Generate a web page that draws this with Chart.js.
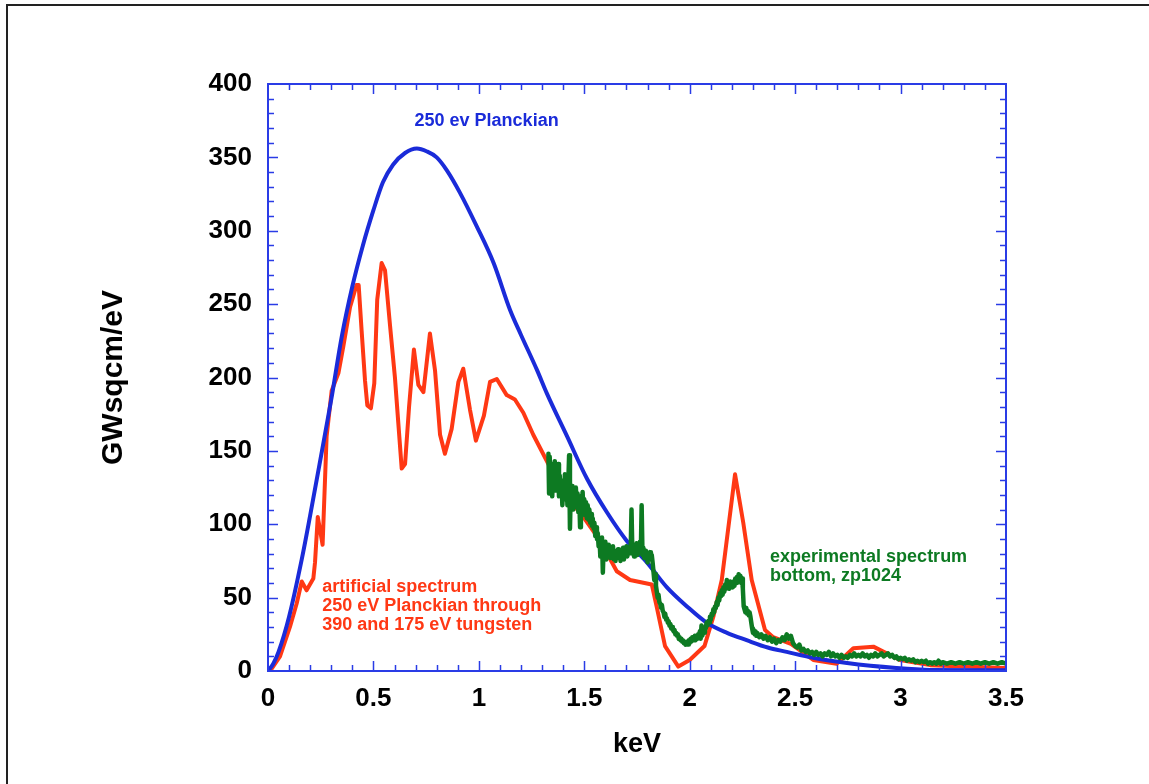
<!DOCTYPE html>
<html>
<head>
<meta charset="utf-8">
<title>250 eV Planckian spectrum</title>
<script src="https://cdn.jsdelivr.net/npm/chart.js@4.4.1/dist/chart.umd.min.js"></script>
<style>
  html, body { margin: 0; padding: 0; background: #fff; }
  #wrap { position: relative; width: 1149px; height: 784px; }
</style>
</head>
<body>
<div id="wrap"><canvas id="spectrum" width="1149" height="784"></canvas></div>
<script>
// eixos
const xTicks = [0, 0.5, 1, 1.5, 2, 2.5, 3, 3.5];
const xTickLabels = ['0', '0.5', '1', '1.5', '2', '2.5', '3', '3.5'];
const yTicks = [0, 50, 100, 150, 200, 250, 300, 350, 400];

// 250 ev Planckian (keV, GWsqcm/eV)
const planckian = [
  [0, 0], [0.025, 5], [0.05, 13], [0.1, 37], [0.16, 76], [0.2, 106], [0.256, 150],
  [0.3, 185], [0.35, 228], [0.4, 262], [0.45, 290], [0.5, 314], [0.545, 333],
  [0.593, 345], [0.65, 353], [0.706, 356], [0.754, 354], [0.8, 350], [0.849, 341],
  [0.91, 326], [0.99, 303], [1.07, 278], [1.148, 246], [1.2, 229], [1.276, 205],
  [1.323, 189], [1.418, 160], [1.513, 131], [1.608, 108], [1.7, 89], [1.797, 74],
  [1.892, 57], [1.987, 44], [2.08, 33], [2.177, 26], [2.27, 21], [2.37, 16],
  [2.46, 13], [2.585, 9], [2.746, 5.4], [2.98, 2], [3.14, 0.7], [3.5, 0.5]
];

// artificial spectrum
const artificial = [
  [0, 0], [0.01, 0], [0.057, 10], [0.104, 30], [0.136, 46], [0.16, 61], [0.183, 55],
  [0.215, 63], [0.223, 74], [0.236, 105], [0.259, 86], [0.278, 160], [0.302, 191],
  [0.334, 203], [0.357, 221], [0.389, 248], [0.42, 263], [0.43, 263], [0.444, 232],
  [0.46, 198], [0.471, 181], [0.488, 179], [0.504, 196], [0.518, 253], [0.539, 278],
  [0.555, 273], [0.579, 235], [0.602, 200], [0.618, 169], [0.634, 138], [0.65, 141],
  [0.669, 180], [0.692, 219], [0.713, 195], [0.737, 190], [0.768, 230], [0.792, 205],
  [0.816, 161], [0.839, 148], [0.871, 165], [0.903, 197], [0.926, 206], [0.958, 178],
  [0.986, 157], [1.024, 174], [1.053, 197], [1.085, 199], [1.132, 188], [1.171, 185],
  [1.211, 176], [1.258, 161], [1.337, 139], [1.417, 119], [1.495, 105], [1.574, 89],
  [1.654, 68], [1.717, 62], [1.82, 59], [1.843, 44], [1.883, 17], [1.946, 3],
  [2.0, 7.5], [2.07, 17], [2.112, 37], [2.152, 62], [2.215, 134], [2.254, 101],
  [2.294, 62], [2.357, 28], [2.396, 23], [2.48, 18.5], [2.586, 7.5], [2.697, 5],
  [2.776, 15.5], [2.871, 16.6], [2.934, 12], [2.997, 7.5], [3.14, 4], [3.5, 2]
];

// experimental spectrum, bottom, zp1024
const experimental = [
  [1.330, 148], [1.333, 121], [1.336, 146], [1.340, 126], [1.344, 141], [1.348, 119],
  [1.352, 137], [1.356, 128], [1.360, 143], [1.364, 123], [1.368, 138], [1.372, 127],
  [1.376, 141], [1.380, 119], [1.384, 133], [1.388, 124], [1.392, 130], [1.396, 113],
  [1.400, 128], [1.404, 121], [1.408, 134], [1.412, 117], [1.416, 130], [1.420, 113],
  [1.424, 127], [1.428, 147], [1.432, 97], [1.436, 124], [1.440, 115], [1.444, 126],
  [1.448, 110], [1.452, 123], [1.456, 112], [1.460, 125], [1.464, 114], [1.468, 121],
  [1.472, 108], [1.476, 119], [1.480, 98], [1.484, 118], [1.488, 110], [1.492, 122],
  [1.496, 109], [1.500, 117], [1.504, 106], [1.508, 115], [1.512, 104], [1.516, 113],
  [1.520, 103], [1.524, 110], [1.528, 101], [1.532, 107], [1.536, 99], [1.540, 104],
  [1.544, 97], [1.548, 101], [1.552, 92], [1.556, 98], [1.560, 90], [1.564, 94],
  [1.568, 85], [1.572, 91], [1.576, 78], [1.580, 88], [1.584, 91], [1.588, 67],
  [1.592, 86], [1.596, 80], [1.600, 88], [1.604, 76], [1.608, 84], [1.612, 79],
  [1.616, 86], [1.620, 82], [1.624, 77], [1.628, 84], [1.632, 79], [1.636, 85],
  [1.640, 76], [1.644, 82], [1.648, 75], [1.652, 81], [1.656, 77], [1.660, 83],
  [1.664, 78], [1.668, 80], [1.672, 75], [1.676, 82], [1.680, 78], [1.684, 84],
  [1.688, 76], [1.692, 83], [1.696, 79], [1.700, 85], [1.704, 78], [1.708, 82],
  [1.712, 80], [1.716, 84], [1.720, 82], [1.724, 110], [1.728, 80], [1.732, 86],
  [1.736, 78], [1.740, 83], [1.744, 80], [1.748, 87], [1.752, 79], [1.756, 84],
  [1.760, 81], [1.764, 88], [1.768, 80], [1.772, 113], [1.776, 79], [1.780, 84],
  [1.784, 77], [1.788, 82], [1.792, 78], [1.796, 80], [1.800, 74], [1.804, 79],
  [1.808, 76], [1.812, 81], [1.816, 78], [1.820, 79], [1.824, 74], [1.828, 68],
  [1.832, 62], [1.836, 66], [1.840, 58], [1.844, 54], [1.848, 50], [1.852, 52],
  [1.856, 47], [1.860, 46], [1.864, 43], [1.868, 45], [1.872, 41], [1.876, 40],
  [1.880, 37], [1.884, 39], [1.888, 35], [1.892, 36], [1.896, 33], [1.900, 34],
  [1.904, 31], [1.908, 32], [1.912, 29], [1.916, 30], [1.920, 28], [1.924, 27],
  [1.928, 28], [1.932, 25], [1.936, 26], [1.940, 24], [1.944, 25], [1.948, 22],
  [1.952, 23], [1.956, 21], [1.960, 22], [1.964, 20], [1.968, 21], [1.972, 19],
  [1.976, 20], [1.980, 18], [1.984, 19], [1.988, 20], [1.992, 18], [1.996, 21],
  [2.000, 19], [2.004, 22], [2.008, 20], [2.012, 23], [2.016, 21], [2.020, 22],
  [2.024, 24], [2.028, 21], [2.032, 23], [2.036, 22], [2.040, 25], [2.044, 23],
  [2.048, 27], [2.052, 22], [2.056, 31], [2.060, 24], [2.064, 28], [2.068, 26],
  [2.072, 30], [2.076, 29], [2.080, 33], [2.084, 31], [2.088, 34], [2.092, 33],
  [2.096, 37], [2.100, 35], [2.104, 39], [2.108, 38], [2.112, 42], [2.116, 40],
  [2.120, 44], [2.124, 43], [2.128, 47], [2.132, 45], [2.136, 50], [2.140, 48],
  [2.144, 53], [2.148, 51], [2.152, 55], [2.156, 52], [2.160, 57], [2.164, 54],
  [2.168, 59], [2.172, 56], [2.176, 62], [2.180, 58], [2.184, 60], [2.188, 56],
  [2.192, 61], [2.196, 58], [2.200, 60], [2.204, 57], [2.208, 61], [2.212, 58],
  [2.216, 63], [2.220, 60], [2.224, 64], [2.228, 61], [2.232, 66], [2.236, 62],
  [2.240, 65], [2.244, 60], [2.248, 63], [2.252, 56], [2.256, 44], [2.260, 42],
  [2.264, 40], [2.268, 43], [2.272, 39], [2.276, 41], [2.280, 38], [2.284, 40],
  [2.288, 37], [2.292, 33], [2.296, 29], [2.300, 26], [2.304, 28], [2.308, 25],
  [2.312, 27], [2.316, 24], [2.320, 26], [2.330, 23], [2.340, 25], [2.350, 22],
  [2.360, 24], [2.370, 21], [2.380, 23], [2.390, 20], [2.400, 22], [2.410, 19],
  [2.420, 21], [2.430, 20], [2.440, 23], [2.450, 21], [2.460, 25], [2.470, 22],
  [2.480, 24], [2.490, 19], [2.500, 17], [2.510, 16], [2.520, 18], [2.530, 14],
  [2.540, 15], [2.550, 13], [2.560, 14], [2.570, 12], [2.580, 13], [2.590, 11],
  [2.600, 13], [2.610, 11], [2.620, 12], [2.630, 10], [2.640, 12], [2.650, 11],
  [2.660, 13], [2.670, 10], [2.680, 12], [2.690, 10], [2.700, 11], [2.710, 9],
  [2.720, 11], [2.730, 9], [2.740, 10], [2.750, 9], [2.760, 11], [2.770, 10],
  [2.780, 12], [2.790, 10], [2.800, 11], [2.810, 10], [2.820, 12], [2.830, 10],
  [2.840, 11], [2.850, 9], [2.860, 11], [2.870, 10], [2.880, 12], [2.890, 10],
  [2.900, 11], [2.910, 12], [2.920, 10], [2.930, 11], [2.940, 12], [2.950, 10],
  [2.960, 11], [2.970, 9], [2.980, 10], [2.990, 8], [3.000, 9], [3.010, 8],
  [3.020, 9], [3.030, 7], [3.040, 8], [3.050, 7], [3.060, 8], [3.070, 6],
  [3.080, 7], [3.090, 6], [3.100, 7], [3.110, 6], [3.120, 7], [3.130, 5],
  [3.140, 6], [3.150, 5], [3.160, 6], [3.170, 5], [3.180, 7], [3.190, 5],
  [3.200, 6], [3.220, 5], [3.240, 6], [3.260, 5], [3.280, 6], [3.300, 5],
  [3.320, 6], [3.340, 5], [3.360, 6], [3.380, 5], [3.400, 6], [3.420, 5],
  [3.440, 6], [3.460, 5], [3.480, 6], [3.500, 5]
];

const BLUE = '#1a2bd9';
const FRAME_BLUE = '#2a3ce6';
const RED = '#ff3814';
const GREEN = '#0d7a22';
const FONT = "'Liberation Sans', Arial, Helvetica, sans-serif";

const toXY = pts => pts.map(p => ({ x: p[0], y: p[1] }));

// moldura, ticks internos e textos
const framePlugin = {
  id: 'frame',
  beforeDraw(chart) {
    const ctx = chart.ctx;
    ctx.save();
    ctx.strokeStyle = '#222';
    ctx.lineWidth = 2;
    ctx.beginPath();
    ctx.moveTo(7, 784);
    ctx.lineTo(7, 5);
    ctx.lineTo(1149, 5);
    ctx.stroke();
    ctx.restore();
  },
  afterDraw(chart) {
    const ctx = chart.ctx;
    const { left, right, top, bottom } = chart.chartArea;
    const xs = chart.scales.x;
    const ys = chart.scales.y;
    ctx.save();
    ctx.strokeStyle = FRAME_BLUE;
    ctx.lineWidth = 2;
    ctx.strokeRect(left, top, right - left, bottom - top);
    ctx.lineWidth = 1.5;
    ctx.beginPath();
    for (let i = 1; i < 35; i++) {
      const v = i / 10;
      const px = Math.round(xs.getPixelForValue(v)) + 0.5;
      const len = (i % 5 === 0) ? 10 : 6;
      ctx.moveTo(px, bottom); ctx.lineTo(px, bottom - len);
      ctx.moveTo(px, top); ctx.lineTo(px, top + len);
    }
    for (let v = 10; v < 400; v += 10) {
      const py = Math.round(ys.getPixelForValue(v)) + 0.5;
      const len = (v % 50 === 0) ? 10 : 6;
      ctx.moveTo(left, py); ctx.lineTo(left + len, py);
      ctx.moveTo(right, py); ctx.lineTo(right - len, py);
    }
    ctx.stroke();

    ctx.font = 'bold 18px ' + FONT;
    ctx.textBaseline = 'middle';
    ctx.textAlign = 'left';
    ctx.fillStyle = BLUE;
    ctx.fillText('250 ev Planckian', xs.getPixelForValue(0.695), ys.getPixelForValue(375));
    ctx.fillStyle = RED;
    const rx = xs.getPixelForValue(0.257);
    ctx.fillText('artificial spectrum', rx, ys.getPixelForValue(57));
    ctx.fillText('250 eV Planckian through', rx, ys.getPixelForValue(44));
    ctx.fillText('390 and 175 eV tungsten', rx, ys.getPixelForValue(31));
    ctx.fillStyle = GREEN;
    const gx = xs.getPixelForValue(2.381);
    ctx.fillText('experimental spectrum', gx, ys.getPixelForValue(78));
    ctx.fillText('bottom, zp1024', gx, ys.getPixelForValue(65));
    ctx.restore();
  }
};

class SpectrumChart {
  constructor(canvasId) {
    this.canvasId = canvasId;
    this.chart = null;
  }

  init() {
    const ctx = document.getElementById(this.canvasId).getContext('2d');
    this.chart = new Chart(ctx, {
      type: 'line',
      data: {
        datasets: [
          { label: 'experimental', data: toXY(experimental), borderColor: GREEN, borderWidth: 4.5 },
          { label: 'planckian', data: toXY(planckian), borderColor: BLUE, borderWidth: 4, cubicInterpolationMode: 'monotone' },
          { label: 'artificial', data: toXY(artificial), borderColor: RED, borderWidth: 4 }
        ]
      },
      options: {
        responsive: false,
        animation: false,
        events: [],
        elements: {
          point: { radius: 0 },
          line: { tension: 0, fill: false, borderJoinStyle: 'round', borderCapStyle: 'round' }
        },
        layout: { padding: { top: 84, right: 143, bottom: 0, left: 0 } },
        plugins: { legend: { display: false }, tooltip: { enabled: false } },
        scales: {
          x: {
            type: 'linear',
            min: 0,
            max: 3.5,
            afterBuildTicks: s => { s.ticks = xTicks.map(v => ({ value: v })); },
            afterFit: s => { s.height = 113; },
            grid: { display: false, drawTicks: false },
            border: { display: false },
            ticks: {
              color: '#000',
              padding: 12,
              font: { family: FONT, size: 26, weight: 'bold' },
              callback: (v, i) => xTickLabels[i]
            },
            title: {
              display: true,
              text: 'keV',
              color: '#000',
              padding: { top: 0, bottom: 23 },
              font: { family: FONT, size: 27, weight: 'bold' }
            }
          },
          y: {
            type: 'linear',
            min: 0,
            max: 400,
            afterBuildTicks: s => { s.ticks = yTicks.map(v => ({ value: v })); },
            afterFit: s => { s.width = 268; },
            grid: { display: false, drawTicks: false },
            border: { display: false },
            ticks: { color: '#000', padding: 16, font: { family: FONT, size: 26, weight: 'bold' } },
            title: {
              display: true,
              text: 'GWsqcm/eV',
              color: '#000',
              padding: { top: 96, bottom: 0 },
              font: { family: FONT, size: 30, weight: 'bold' }
            }
          }
        }
      },
      plugins: [framePlugin]
    });
  }
}

const spectrumChart = new SpectrumChart('spectrum');
spectrumChart.init();
</script>
</body>
</html>
